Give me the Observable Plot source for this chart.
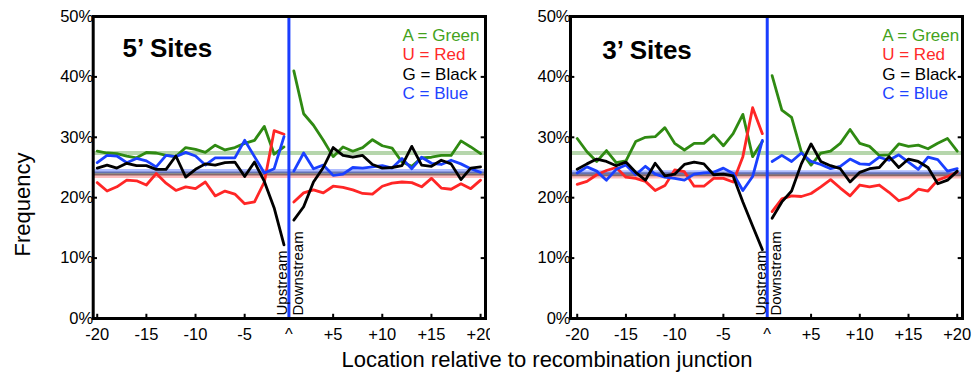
<!DOCTYPE html>
<html>
<head>
<meta charset="utf-8">
<script src="https://cdn.jsdelivr.net/npm/d3@7"></script>
<script src="https://cdn.jsdelivr.net/npm/@observablehq/plot@0.6"></script>
<style>
  body { margin: 0; background: #fff; }
  #wrap { position: relative; width: 980px; height: 375px; background: #fff; font-family: "Liberation Sans", Arial, sans-serif; }
  #wrap svg { position: absolute; top: 0; }
  #xlab { position: absolute; z-index: 5; left: 247px; width: 600px; top: 349px; text-align: center; font-size: 22px; line-height: 22px; color: #000; }
</style>
</head>
<body>
<div id="wrap"></div>
<script>
// ---------- data ----------
const positions = [-20,-19,-18,-17,-16,-15,-14,-13,-12,-11,-10,-9,-8,-7,-6,-5,-4,-3,-2,-1,
                   1,2,3,4,5,6,7,8,9,10,11,12,13,14,15,16,17,18,19,20];
const bases = ["A", "U", "G", "C"];
const legendLabels = ["A = Green", "U = Red", "G = Black", "C = Blue"];
const panelTitles = ["5\u2019 Sites", "3\u2019 Sites"];
const xTickPositions = [-20, -15, -10, -5, 0, 5, 10, 15, 20];
const xTickLabels = ["-20", "-15", "-10", "-5", "^", "+5", "+10", "+15", "+20"];
const yTicks = [0, 10, 20, 30, 40, 50];
const sideLabels = ["Upstream", "Downstream"];
const yTitle = "Frequency";
const xTitle = "Location relative to recombination junction";

// 5' sites (percent), upstream -20..-1 then downstream +1..+20
const fiveA = [27.7,27.4,27.3,26.9,26.6,27.5,27.4,27.0,26.8,28.3,28.0,27.5,28.7,27.9,28.3,29.0,29.5,31.8,27.2,28.4,
               41.0,33.9,32.0,29.5,26.8,28.4,27.7,28.3,29.6,28.6,28.2,25.9,25.2,26.6,26.7,27.0,27.0,29.4,28.4,27.3];
const fiveU = [22.5,21.1,21.8,22.9,22.8,22.1,24.0,22.4,21.2,21.8,21.5,22.6,20.3,21.1,20.6,19.0,19.3,22.6,31.1,30.5,
               19.3,20.8,21.3,20.8,21.9,21.7,21.3,20.7,20.6,21.9,22.4,22.6,22.5,21.8,23.2,21.6,21.4,22.3,21.5,22.9];
const fiveG = [24.9,25.4,24.9,25.7,25.3,25.3,24.7,24.7,26.9,23.4,24.7,25.6,25.4,25.8,25.9,23.5,25.9,22.7,18.3,12.2,
               16.3,18.5,22.6,25.0,28.3,27.0,26.7,27.0,25.5,24.9,25.0,25.3,28.5,25.4,25.2,26.2,25.6,23.0,24.9,25.1];
const fiveC = [25.8,27.0,26.9,25.8,26.5,26.1,25.1,27.0,26.8,27.5,26.9,25.4,26.6,26.6,26.6,29.5,26.8,24.1,24.8,30.1,
               24.4,27.4,24.8,25.4,23.7,23.9,25.0,24.9,25.1,25.3,24.9,26.5,24.8,26.7,25.7,25.5,26.2,25.6,24.8,24.2];
const fiveMeans = [27.4, 23.6, 24.0, 24.4];

// 3' sites (percent)
const threeA = [29.8,27.6,26.0,27.8,25.8,26.1,29.3,30.0,30.1,31.6,29.0,27.9,29.0,29.0,30.4,28.6,30.6,33.8,26.8,29.3,
                40.2,34.5,33.3,27.6,25.4,27.4,27.7,29.0,31.3,29.0,28.5,27.0,27.1,28.9,28.5,28.7,28.1,29.0,29.8,27.7];
const threeU = [22.2,22.7,23.8,24.5,25.0,23.4,23.2,22.7,21.2,22.0,24.6,24.3,21.9,21.9,23.2,23.2,22.6,26.8,34.9,30.6,
                17.7,19.8,20.3,20.2,20.7,21.8,23.0,21.6,20.3,22.1,21.8,22.1,20.9,19.5,20.0,21.4,21.1,22.9,23.5,24.2];
const threeG = [24.7,25.6,26.4,26.0,25.3,25.9,24.2,22.9,25.7,23.6,23.9,25.5,25.9,25.6,23.8,23.9,23.6,19.3,15.3,11.4,
                16.6,19.3,21.1,25.6,28.9,26.0,25.3,24.8,22.6,24.2,24.8,25.0,26.8,25.0,26.4,26.0,25.0,22.3,22.9,24.4];
const threeC = [24.1,25.1,24.4,22.9,24.7,25.4,23.8,25.2,23.9,23.4,23.2,22.9,23.9,24.1,24.2,24.9,24.0,21.2,23.5,29.5,
                26.0,27.0,26.0,27.4,26.0,25.5,24.8,25.2,26.4,25.6,25.5,26.7,26.2,27.1,25.9,24.7,26.7,26.3,24.4,24.8];
const threeMeans = [27.4, 23.5, 23.9, 24.2];

// ---------- styling ----------
const lineColors = ["#2f8a12", "#ff2626", "#000000", "#1a40ff"];
const legendColors = ["#43a21c", "#ff2a2a", "#000000", "#1f44ff"];
const bandOpacity = [0.35, 0.3, 0.45, 0.35];
const junctionColor = "#1a3dff";
const FONT = "'Liberation Sans', Arial, sans-serif";

// position -> slot index (no slot for 0; the junction sits between -1 and +1)
const slot = p => p < 0 ? p + 20 : (p > 0 ? p + 19 : 19.5);
const tickLabelOf = new Map(xTickPositions.map((p, i) => [slot(p), xTickLabels[i]]));

function makePanel(cfg) {
  const series = cfg.series;
  const rows = [];
  bases.forEach((b, k) => positions.forEach((p, j) =>
    rows.push({base: b, k, pos: p, side: p < 0 ? "up" : "down", v: series[k][j]})));
  const [x0, x1] = cfg.xdomain;
  const marks = [];
  // mean reference bands
  bases.forEach((b, k) => {
    marks.push(Plot.ruleY([cfg.means[k]], {y: d => d, stroke: lineColors[k], strokeOpacity: bandOpacity[k], strokeWidth: 4}));
  });
  // junction line
  marks.push(Plot.ruleX([slot(0)], {x: d => d, stroke: junctionColor, strokeWidth: 3}));
  // series lines (green, red, blue, black)
  [0, 1, 3, 2].forEach(k => {
    marks.push(Plot.line(rows.filter(r => r.k === k), {
      x: d => slot(d.pos), y: "v", z: "side",
      stroke: lineColors[k], strokeWidth: 2.8, strokeLinejoin: "round"
    }));
  });
  // Upstream / Downstream labels
  marks.push(Plot.text([sideLabels[0]], {x: () => slot(0), y: () => 0, text: d => d, rotate: -90,
    textAnchor: "start", lineAnchor: "bottom", dx: -1.5, dy: -3, fontSize: 15, fill: "black"}));
  marks.push(Plot.text([sideLabels[1]], {x: () => slot(0), y: () => 0, text: d => d, rotate: -90,
    textAnchor: "start", lineAnchor: "top", dx: 3.5, dy: -3, fontSize: 15, fill: "black"}));
  // title
  marks.push(Plot.text([cfg.title], {frameAnchor: "top-left", text: d => d, dx: cfg.titleDx, dy: cfg.titleDy,
    textAnchor: "start", lineAnchor: "top", fontSize: 26, fontWeight: "bold", fill: "black"}));
  // legend
  legendLabels.forEach((t, k) => {
    marks.push(Plot.text([t], {frameAnchor: "top-left", text: d => d, dx: cfg.legendDx, dy: 19 + k * 19.3,
      textAnchor: "start", lineAnchor: "middle", fontSize: 17, fill: legendColors[k]}));
  });
  // y title
  if (cfg.yTitle) {
    marks.push(Plot.text([cfg.yTitle], {frameAnchor: "left", text: d => d, dx: -70.7, dy: 37, rotate: -90,
      textAnchor: "middle", lineAnchor: "middle", fontSize: 22, fill: "black"}));
  }
  // inward tick marks
  const span = (x1 - x0);
  marks.push(Plot.ruleY(yTicks, {y: d => d, x1: () => x0, x2: () => x0 + span * 0.011, stroke: "black", strokeWidth: 2}));
  marks.push(Plot.ruleY(yTicks, {y: d => d, x1: () => x1 - span * 0.011, x2: () => x1, stroke: "black", strokeWidth: 2}));
  marks.push(Plot.ruleX(xTickPositions.filter(p => p !== 0).map(slot), {x: d => d, y1: () => 0, y2: () => 0.7, stroke: "black", strokeWidth: 2}));
  // axes
  marks.push(Plot.axisY({ticks: yTicks, tickFormat: d => d + "%", tickSize: 0, tickPadding: 0, fontSize: 16.5, label: null}));
  marks.push(Plot.axisX({ticks: xTickPositions.map(slot), tickFormat: d => tickLabelOf.get(d), tickSize: 0, tickPadding: 10, fontSize: 16.5, label: null}));
  // frame
  marks.push(Plot.frame({stroke: "black", strokeWidth: 3}));

  const svg = Plot.plot({
    width: 490, height: 375,
    marginLeft: cfg.ml, marginRight: cfg.mr, marginTop: 16, marginBottom: 57,
    x: {domain: cfg.xdomain},
    y: {domain: [0, 50]},
    style: {fontFamily: FONT, fontSize: "16.5px", color: "black", background: "white", overflow: "visible"},
    marks
  });
  svg.style.left = cfg.left + "px";
  return svg;
}

const wrap = document.getElementById("wrap");
wrap.appendChild(makePanel({
  title: panelTitles[0], series: [fiveA, fiveU, fiveG, fiveC], means: fiveMeans,
  left: 0, ml: 92.7, mr: 5, xdomain: [-0.41, 39.5],
  titleDx: 29.3, titleDy: 22, legendDx: 309.3, yTitle
}));
wrap.appendChild(makePanel({
  title: panelTitles[1], series: [threeA, threeU, threeG, threeC], means: threeMeans,
  left: 490, ml: 80, mr: 18, xdomain: [-0.69, 39.54],
  titleDx: 31.7, titleDy: 24.5, legendDx: 311.7, yTitle: null
}));
const xl = document.createElement("div");
xl.id = "xlab";
xl.textContent = xTitle;
wrap.appendChild(xl);
</script>
</body>
</html>
